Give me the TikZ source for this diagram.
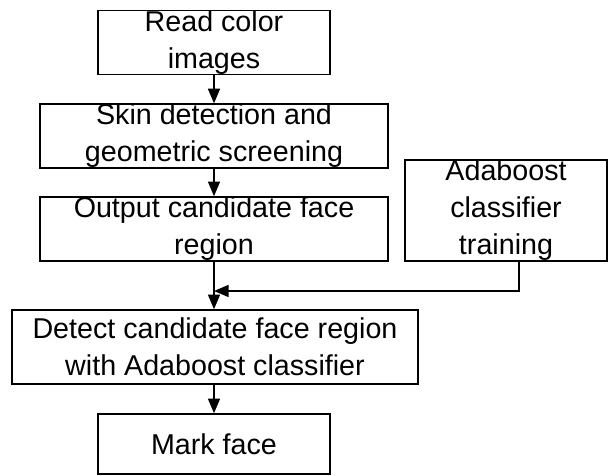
\documentclass[tikz,border=0pt]{standalone}
\usepackage{fontspec}
\setmainfont{Liberation Sans}
\usetikzlibrary{arrows.meta}

\tikzset{every picture/.style={line width=1.2pt}}
\tikzset{stepbox/.style={draw, inner sep=0pt, align=center, font=\fontsize{21.5}{27.75}\selectfont},
	flow/.style={-{Triangle[length=11pt,width=9pt]}}}

\begin{document}
\begin{tikzpicture}[x=0.75pt,y=0.75pt,yscale=-1,xscale=1]
	\useasboundingbox (0,0) rectangle (609,475);

	%Shape: Rectangle [id:read] 
	\node[stepbox, minimum width=232*0.75pt, minimum height=61*0.75pt] (read) at (214,42.5) {Read color\\images};
	%Shape: Rectangle [id:skin] 
	\node[stepbox, minimum width=348*0.75pt, minimum height=62*0.75pt] (skin) at (214,136) {Skin detection and\\geometric screening};
	%Shape: Rectangle [id:output] 
	\node[stepbox, minimum width=348*0.75pt, minimum height=64*0.75pt] (output) at (214,229) {Output candidate face\\region};
	%Shape: Rectangle [id:adaboost] 
	\node[stepbox, minimum width=202*0.75pt, minimum height=101*0.75pt] (adaboost) at (506,210.5) {Adaboost\\classifier\\training};
	%Shape: Rectangle [id:detect] 
	\node[stepbox, minimum width=406*0.75pt, minimum height=74*0.75pt] (detect) at (215,347) {Detect candidate face region\\with Adaboost classifier};
	%Shape: Rectangle [id:mark] 
	\node[stepbox, minimum width=232*0.75pt, minimum height=60*0.75pt] (mark) at (214,444) {Mark face};

	\coordinate (join) at (214,291);

	%Straight Lines [id:arrows] 
	\draw[flow] (read) -- (skin);
	\draw[flow] (skin) -- (output);
	\draw[flow] (output) -- (output |- detect.north);
	\draw[flow] ([xshift=9.75pt]adaboost.south) |- (join);
	\draw[flow] (mark.north |- detect.south) -- (mark);

\end{tikzpicture}
\end{document}
